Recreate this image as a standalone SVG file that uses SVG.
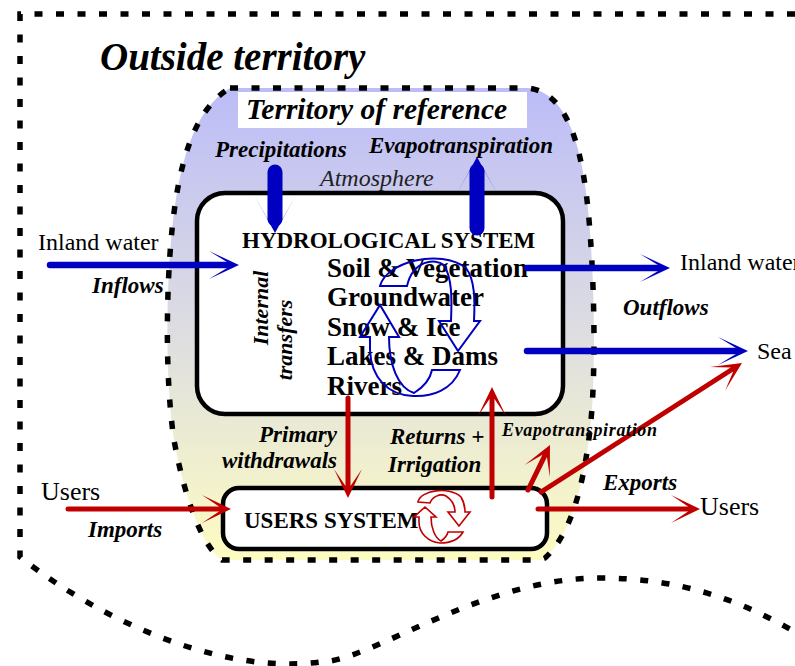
<svg xmlns="http://www.w3.org/2000/svg" width="795" height="666" viewBox="0 0 795 666">
  <style>
    .dash { fill: none; stroke: #000; stroke-width: 5.5; stroke-dasharray: 8 13.5; }
    .box { fill: #fff; stroke: #000; stroke-width: 4.5; }
    .t { font-family: "Liberation Serif", "Times New Roman", serif; fill: #000; }
    .bi { font-weight: bold; font-style: italic; }
    .lbl { font-size: 23px; }
    .reg { font-size: 24px; }
    .item { font-weight: bold; font-size: 27px; }
    .cycB { fill: none; stroke: #0000c0; stroke-width: 2; stroke-linejoin: miter; }
    .cycR { fill: none; stroke: #c00000; stroke-width: 1.6; }
    .blue { stroke: #0000c0; stroke-width: 6.5; stroke-linecap: round; fill: none; }
    .blueT { stroke: #0000c0; stroke-width: 15; stroke-linecap: round; fill: none; }
    .red { stroke: #c00000; stroke-width: 5; stroke-linecap: round; fill: none; }
  </style>
  <defs>
    <linearGradient id="terrGrad" x1="0" y1="0" x2="0" y2="1">
      <stop offset="0" stop-color="#bcbcf8"/>
      <stop offset="0.5" stop-color="#dcdce2"/>
      <stop offset="1" stop-color="#fdfcc2"/>
    </linearGradient>
    <marker id="hb" markerUnits="userSpaceOnUse" orient="auto" refX="-12" refY="0" markerWidth="1" markerHeight="1" overflow="visible">
      <path d="M0,0 L-30,-14 L-12,-3 L-12,3 L-30,14 Z" fill="#0000c0"/>
    </marker>
    <marker id="hbT" markerUnits="userSpaceOnUse" orient="auto" refX="-14" refY="0" markerWidth="1" markerHeight="1" overflow="visible">
      <path d="M0,0 L-38,-21 L-14,-7.5 L-14,7.5 L-38,21 Z" fill="#0000c0"/>
    </marker>
    <marker id="hr" markerUnits="userSpaceOnUse" orient="auto" refX="-12" refY="0" markerWidth="1" markerHeight="1" overflow="visible">
      <path d="M0,0 L-29,-14 L-12,-2.5 L-12,2.5 L-29,14 Z" fill="#c00000"/>
    </marker>
  </defs>

  <g id="territory-of-reference">
    <path d="M 230 88 H 528 C 565 92 580 140 587 200 C 594 260 597 370 590 430 C 583 490 570 535 545 558 L 540 560 H 222 C 200 545 183 490 174 440 C 165 380 166 290 172 230 C 178 170 192 110 230 88 Z" fill="url(#terrGrad)"/>
    <path class="dash" d="M 230 88 H 528 C 565 92 580 140 587 200 C 594 260 597 370 590 430 C 583 490 570 535 545 558 L 540 560 H 222 C 200 545 183 490 174 440 C 165 380 166 290 172 230 C 178 170 192 110 230 88 Z"/>
    <rect x="238" y="92" width="289" height="36" fill="#fff"/>
    <text class="t bi" x="246" y="119" style="font-size:29.5px">Territory of reference</text>
  </g>

  <g id="outside-territory">
    <path class="dash" d="M 795 14 H 20 V 557 C 100 620 220 675 320 662 C 370 662 480 578 600 578 C 680 578 740 600 795 632"/>
    <text class="t bi" x="100" y="70" style="font-size:39px">Outside territory</text>
  </g>

  <g id="atmosphere">
    <text class="t" x="320" y="186" style="font-size:24px;font-style:italic;fill:#222">Atmosphere</text>
  </g>

  <g id="hydrological-system">
    <rect class="box" x="197" y="193" width="366" height="221" rx="28"/>
    <text class="t" x="242" y="248" style="font-size:23px;font-weight:bold">HYDROLOGICAL SYSTEM</text>
    <text class="t item" x="327" y="277">Soil &amp; Vegetation</text>
    <text class="t item" x="327" y="306">Groundwater</text>
    <text class="t item" x="327" y="336">Snow &amp; Ice</text>
    <text class="t item" x="327" y="365">Lakes &amp; Dams</text>
    <text class="t item" x="327" y="395">Rivers</text>
    <text class="t bi" style="font-size:22px" text-anchor="middle" transform="translate(268,308) rotate(-90)">Internal</text>
    <text class="t bi" style="font-size:22px" text-anchor="middle" transform="translate(292,340) rotate(-90)">transfers</text>
    <path class="cycB" d="M 380 286 C 386 262 440 248 466 268 C 475 280 475 300 474 321 L 480 321 L 458 351 L 439 321 L 451 321 C 452 298 452 278 444 265 C 435 258 413 260 407 286 Z"/>
    <path class="cycB" d="M 460 370 C 452 390 432 397 413 396 C 388 395 371 378 370 350 L 370 337 L 360 337 L 380 305 L 399 337 L 389 337 C 389 365 398 388 414 393 C 422 388 430 380 432 370 Z"/>
  </g>

  <g id="users-system">
    <rect class="box" x="223" y="488" width="324" height="61" rx="16"/>
    <text class="t" x="244" y="528" style="font-size:23px;font-weight:bold">USERS SYSTEM</text>
    <path class="cycR" d="M 418 502 C 420 490 450 486 461 497 C 464 502 465 507 465 512 L 470 512 L 459 526 L 448 512 L 455 512 C 455 506 452 500 446 496 C 440 493 432 497 430 503 Z"/>
    <path class="cycR" d="M 463 532 C 458 541 448 543 440 543 C 428 542 419 533 419 522 L 419 517 L 414 517 L 425 507 L 436 517 L 431 517 C 431 528 435 538 441 541 C 444 539 447 536 448 532 Z"/>
  </g>

  <g id="inland-water-in">
    <text class="t reg" x="38" y="250">Inland water</text>
  </g>
  <g id="inland-water-out">
    <text class="t reg" x="680" y="270">Inland water</text>
  </g>
  <g id="sea">
    <text class="t reg" x="757" y="359">Sea</text>
  </g>
  <g id="users-in">
    <text class="t" x="41" y="500" style="font-size:26px">Users</text>
  </g>
  <g id="users-out">
    <text class="t" x="700" y="515" style="font-size:26px">Users</text>
  </g>

  <g id="connectors">
    <line class="blueT" x1="275" y1="172" x2="275" y2="219" marker-end="url(#hbT)"/>
    <line class="blueT" x1="477" y1="228" x2="477" y2="171" marker-end="url(#hbT)"/>
    <line class="blue" x1="50" y1="265" x2="227" y2="265" marker-end="url(#hb)"/>
    <line class="blue" x1="527" y1="268" x2="658" y2="268" marker-end="url(#hb)"/>
    <line class="blue" x1="527" y1="351" x2="736" y2="351" marker-end="url(#hb)"/>
    <line class="red" x1="68" y1="509" x2="219" y2="509" marker-end="url(#hr)"/>
    <line class="red" x1="348" y1="398" x2="348" y2="486" marker-end="url(#hr)"/>
    <line class="red" x1="492" y1="497" x2="492" y2="399" marker-end="url(#hr)"/>
    <line class="red" x1="528" y1="490" x2="544.7" y2="455.8" marker-end="url(#hr)"/>
    <line class="red" x1="541" y1="492" x2="731.9" y2="369.5" marker-end="url(#hr)"/>
    <line class="red" x1="538" y1="509" x2="688" y2="509" marker-end="url(#hr)"/>
  </g>

  <g id="connector-labels">
    <text class="t bi lbl" x="215" y="157">Precipitations</text>
    <text class="t bi lbl" x="369" y="153">Evapotranspiration</text>
    <text class="t bi lbl" x="92" y="293">Inflows</text>
    <text class="t bi lbl" x="623" y="315">Outflows</text>
    <text class="t bi lbl" x="337" y="442" text-anchor="end">Primary</text>
    <text class="t bi lbl" x="337" y="468" text-anchor="end">withdrawals</text>
    <text class="t bi lbl" x="390" y="444">Returns +</text>
    <text class="t bi lbl" x="388" y="472">Irrigation</text>
    <text class="t bi" x="502" y="436" style="font-size:18px" textLength="155" lengthAdjust="spacing">Evapotranspiration</text>
    <text class="t bi lbl" x="603" y="490">Exports</text>
    <text class="t bi lbl" x="88" y="537">Imports</text>
  </g>
</svg>
